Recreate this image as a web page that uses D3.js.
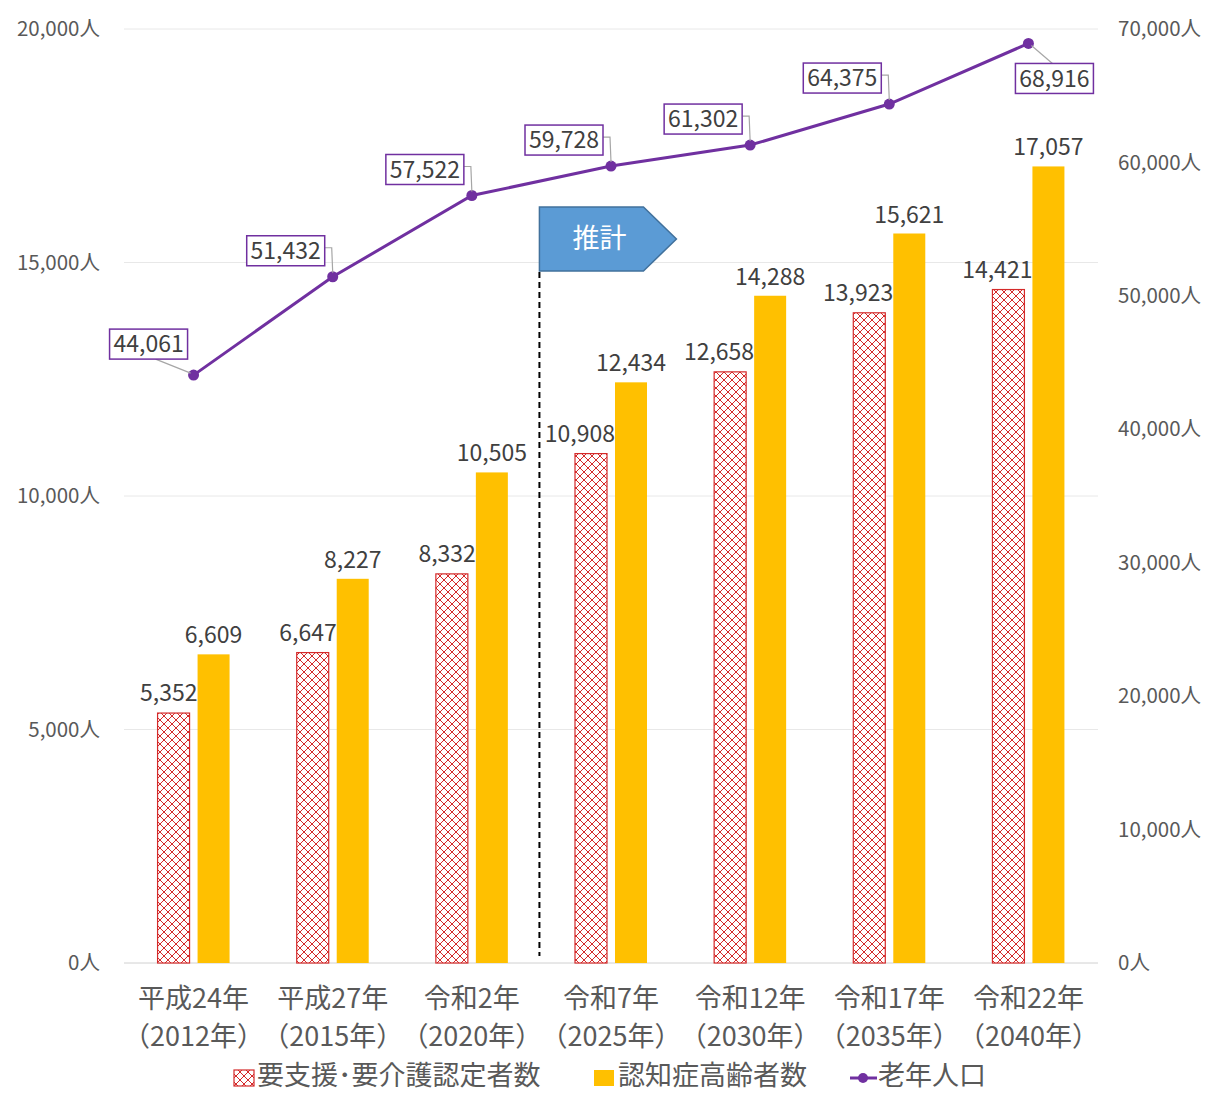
<!DOCTYPE html>
<html>
<head>
<meta charset="utf-8">
<script src="https://cdn.jsdelivr.net/npm/d3@7"></script>
<style>
  body { margin: 0; background: #fff; }
  svg { display: block; font-family: "Noto Sans CJK JP", "Noto Sans", sans-serif; }
</style>
</head>
<body>
<svg id="chart" width="1208" height="1093"></svg>
<script>
// data
var eras = ["平成24年", "平成27年", "令和2年", "令和7年", "令和12年", "令和17年", "令和22年"]
var years = ["（2012年）", "（2015年）", "（2020年）", "（2025年）", "（2030年）", "（2035年）", "（2040年）"]
var careCertified = [5352, 6647, 8332, 10908, 12658, 13923, 14421]
var dementiaElderly = [6609, 8227, 10505, 12434, 14288, 15621, 17057]
var elderlyPop = [44061, 51432, 57522, 59728, 61302, 64375, 68916]
var leftTicks = [0, 5000, 10000, 15000, 20000]
var rightTicks = [0, 10000, 20000, 30000, 40000, 50000, 60000, 70000]
var seriesNames = ["要支援･要介護認定者数", "認知症高齢者数", "老年人口"]
var lineLabelPlace = ["lowleft", "above", "above", "above", "above", "above", "lowright"]

var svg = d3.select("#chart")
var fmt = d3.format(",")

var x = d3.scaleBand().domain(d3.range(eras.length)).range([124, 1098]).paddingInner(0)
var yL = d3.scaleLinear().domain([0, 20000]).range([963, 29])
var yR = d3.scaleLinear().domain([0, 70000]).range([963, 29])

// hatch pattern for red bars
var defs = svg.append("defs")
var pat = defs.append("pattern").attr("id", "hatch")
    .attr("patternUnits", "userSpaceOnUse").attr("width", 8).attr("height", 8)
pat.append("rect").attr("width", 8).attr("height", 8).attr("fill", "#fff")
pat.append("path").attr("d", "M0,0L8,8M8,0L0,8M-1,7L1,9M7,-1L9,1")
    .attr("stroke", "#d42a2a").attr("stroke-width", 1)

// grid
svg.append("g").selectAll("line").data(leftTicks).join("line")
    .attr("x1", 124).attr("x2", 1098)
    .attr("y1", d => yL(d)).attr("y2", d => yL(d))
    .attr("stroke", d => d === 0 ? "#d0d0d0" : "#e8e8e8").attr("stroke-width", 1)

// left axis labels
svg.append("g").selectAll("text").data(leftTicks).join("text")
    .attr("x", 100).attr("y", d => yL(d)).attr("dy", "0.35em")
    .attr("text-anchor", "end").attr("font-size", 20.5).attr("fill", "#595959")
    .text(d => fmt(d) + "人")

// right axis labels
svg.append("g").selectAll("text").data(rightTicks).join("text")
    .attr("x", 1118).attr("y", d => yR(d)).attr("dy", "0.35em")
    .attr("text-anchor", "start").attr("font-size", 20.5).attr("fill", "#595959")
    .text(d => fmt(d) + "人")

var barW = 32
var cx = i => x(i) + x.bandwidth() / 2

// red hatched bars
svg.append("g").selectAll("rect").data(careCertified).join("rect")
    .attr("x", (d, i) => cx(i) - 4 - barW).attr("width", barW)
    .attr("y", d => yL(d)).attr("height", d => yL(0) - yL(d))
    .attr("fill", "url(#hatch)").attr("stroke", "#d42a2a").attr("stroke-width", 1.2)

// yellow bars
svg.append("g").selectAll("rect").data(dementiaElderly).join("rect")
    .attr("x", (d, i) => cx(i) + 4).attr("width", barW)
    .attr("y", d => yL(d)).attr("height", d => yL(0) - yL(d))
    .attr("fill", "#ffc000")

// bar labels
svg.append("g").selectAll("text").data(careCertified).join("text")
    .attr("x", (d, i) => cx(i) + 4).attr("y", d => yL(d) - 20).attr("dy", "0.35em")
    .attr("text-anchor", "end").attr("font-size", 23).attr("fill", "#404040")
    .text(d => fmt(d))
svg.append("g").selectAll("text").data(dementiaElderly).join("text")
    .attr("x", (d, i) => cx(i) + 4 + barW / 2).attr("y", d => yL(d) - 19).attr("dy", "0.35em")
    .attr("text-anchor", "middle").attr("font-size", 23).attr("fill", "#404040")
    .text(d => fmt(d))

// projection marker: dashed line + arrow box
var splitX = x(3) - 2
svg.append("line").attr("x1", splitX).attr("x2", splitX).attr("y1", 272).attr("y2", 956)
    .attr("stroke", "#000").attr("stroke-width", 2).attr("stroke-dasharray", "6,4")
var ay0 = 207, ay1 = 271
svg.append("path")
    .attr("d", "M" + splitX + "," + ay0 + "H" + (splitX + 104) + "L" + (splitX + 137) + "," + ((ay0 + ay1) / 2) +
        "L" + (splitX + 104) + "," + ay1 + "H" + splitX + "Z")
    .attr("fill", "#5b9bd5").attr("stroke", "#41719c").attr("stroke-width", 1.5)
svg.append("text").attr("x", splitX + 60).attr("y", (ay0 + ay1) / 2).attr("dy", "0.35em")
    .attr("text-anchor", "middle").attr("font-size", 27).attr("fill", "#fff").text("推計")

// elderly population line
var line = d3.line().x((d, i) => cx(i)).y(d => yR(d))
svg.append("path").datum(elderlyPop).attr("d", line)
    .attr("fill", "none").attr("stroke", "#7030a0").attr("stroke-width", 3)
svg.append("g").selectAll("circle").data(elderlyPop).join("circle")
    .attr("cx", (d, i) => cx(i)).attr("cy", d => yR(d)).attr("r", 5.5)
    .attr("fill", "#7030a0")

// line labels in boxes with leader lines
var lblG = svg.append("g")
elderlyPop.forEach(function(d, i) {
    var px = cx(i), py = yR(d)
    var bw = 78, bh = 30, bx, by, leader
    if (lineLabelPlace[i] === "lowleft") {
        bx = px - 45 - bw / 2; by = py - 31 - bh / 2
        leader = [[bx + 46, by + bh], [px - 3, py - 2]]
    } else if (lineLabelPlace[i] === "lowright") {
        bx = px + 26 - bw / 2; by = py + 35 - bh / 2
        leader = [[px + 3, py + 2], [bx + 37, by]]
    } else {
        bx = px - 8 - bw; by = py - 26 - bh / 2
        leader = [[bx + bw, by + bh / 2 - 3], [px - 1, by + bh / 2 - 3], [px, py - 4]]
    }
    lblG.append("path").attr("d", d3.line()(leader))
        .attr("fill", "none").attr("stroke", "#a6a6a6").attr("stroke-width", 1.2)
    lblG.append("rect").attr("x", bx).attr("y", by).attr("width", bw).attr("height", bh)
        .attr("fill", "#fff").attr("stroke", "#7030a0").attr("stroke-width", 1.5)
    lblG.append("text").attr("x", bx + bw / 2).attr("y", by + bh / 2).attr("dy", "0.36em")
        .attr("text-anchor", "middle").attr("font-size", 23).attr("fill", "#404040")
        .text(fmt(d))
})

// x labels
var xl = svg.append("g")
xl.selectAll("text.era").data(eras).join("text").attr("class", "era")
    .attr("x", (d, i) => cx(i)).attr("y", 999).attr("dy", "0.35em")
    .attr("text-anchor", "middle").attr("font-size", 27).attr("fill", "#595959").text(d => d)
xl.selectAll("text.yr").data(years).join("text").attr("class", "yr")
    .attr("x", (d, i) => cx(i)).attr("y", 1037).attr("dy", "0.35em")
    .attr("text-anchor", "middle").attr("font-size", 27).attr("fill", "#595959").text(d => d)

// legend
var lg = svg.append("g").attr("font-size", 27).attr("fill", "#595959")
var ly = 1076
lg.append("rect").attr("x", 234).attr("y", ly - 6).attr("width", 20).attr("height", 16)
    .attr("fill", "url(#hatch)").attr("stroke", "#d42a2a").attr("stroke-width", 1.2)
lg.append("text").attr("x", 257).attr("y", ly).attr("dy", "0.35em").text(seriesNames[0])
lg.append("rect").attr("x", 594).attr("y", ly - 6).attr("width", 20).attr("height", 16)
    .attr("fill", "#ffc000")
lg.append("text").attr("x", 618).attr("y", ly).attr("dy", "0.35em").text(seriesNames[1])
lg.append("line").attr("x1", 850).attr("x2", 877).attr("y1", ly + 2).attr("y2", ly + 2)
    .attr("stroke", "#7030a0").attr("stroke-width", 3)
lg.append("circle").attr("cx", 863).attr("cy", ly + 2).attr("r", 5).attr("fill", "#7030a0")
lg.append("text").attr("x", 878).attr("y", ly).attr("dy", "0.35em").text(seriesNames[2])
</script>
</body>
</html>
